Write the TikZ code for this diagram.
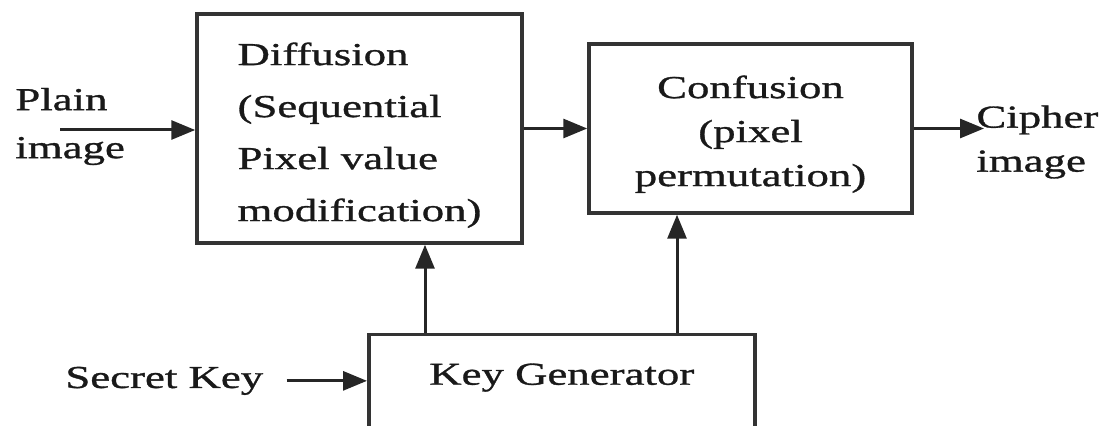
\documentclass[tikz,border=0pt]{standalone}
\usepackage{fontspec}
\setmainfont[FakeStretch=1.4,FakeBold=1]{Liberation Serif}
\usepackage{tikz}
\usetikzlibrary{arrows.meta,positioning}
\tikzset{
  every node/.style={
    font=\fontsize{16}{24}\selectfont,
    text=black!90
  },
  block/.style={
    shape=rectangle,
    draw=black!80,
    line width=1.75pt,
    inner sep=0pt
  },
  signal/.style={
    align=left,
    inner sep=0pt
  },
  flow/.style={
    draw=black!85,
    line width=1.5pt,
    -{Triangle[length=12pt,width=9.5pt]}
  }
}

\begin{document}
\begin{tikzpicture}[x=0.5pt,y=-0.5pt]
    \useasboundingbox (0,0) rectangle (1102,426);
    \node [block, minimum width=162.5pt, minimum height=114.5pt, align=left,
      font=\fontsize{16}{26}\selectfont] (diffusion) at (359.5,128.5) {
      \rule{0pt}{18pt}Diffusion\\(Sequential\\Pixel value\\modification)
    };
    \node [block, minimum width=161.5pt, minimum height=84.5pt, align=center,
      font=\fontsize{16}{22}\selectfont] (confusion) at (750.5,128.5) {
      \rule{0pt}{17pt}Confusion\\(pixel\\permutation)
    };
    % bottom edge of the key box runs off the page
    \node [block, anchor=north west, minimum width=193pt, inner ysep=14pt,
      text height=11pt, text depth=40pt] (keygen) at (367,333) {Key Generator};
    \node [signal, anchor=west] (plain) at (15,126.5) {Plain\\image};
    \node [signal, anchor=west, font=\fontsize{16}{22}\selectfont] (cipher)
      at (976,142) {Cipher\\image};
    \node [signal, anchor=base west] (secret) at (65,388) {Secret Key};
    \coordinate (plainstart) at (60,130);
    \coordinate (keyleft) at (425,333);
    \coordinate (keyright) at (677,333);
    \draw [flow] (plainstart) -- (plainstart -| diffusion.west);
    \draw [flow] (diffusion.east) -- (confusion.west);
    \draw [flow, shorten >=-4pt] (confusion.east) -- (confusion.east -| cipher.west);
    \draw [flow] (keyleft) -- (keyleft |- diffusion.south);
    \draw [flow] (keyright) -- (keyright |- confusion.south);
    \draw [flow] ([xshift=11.5pt]secret.east) -- (secret.east -| keygen.west);
\end{tikzpicture}
\end{document}
